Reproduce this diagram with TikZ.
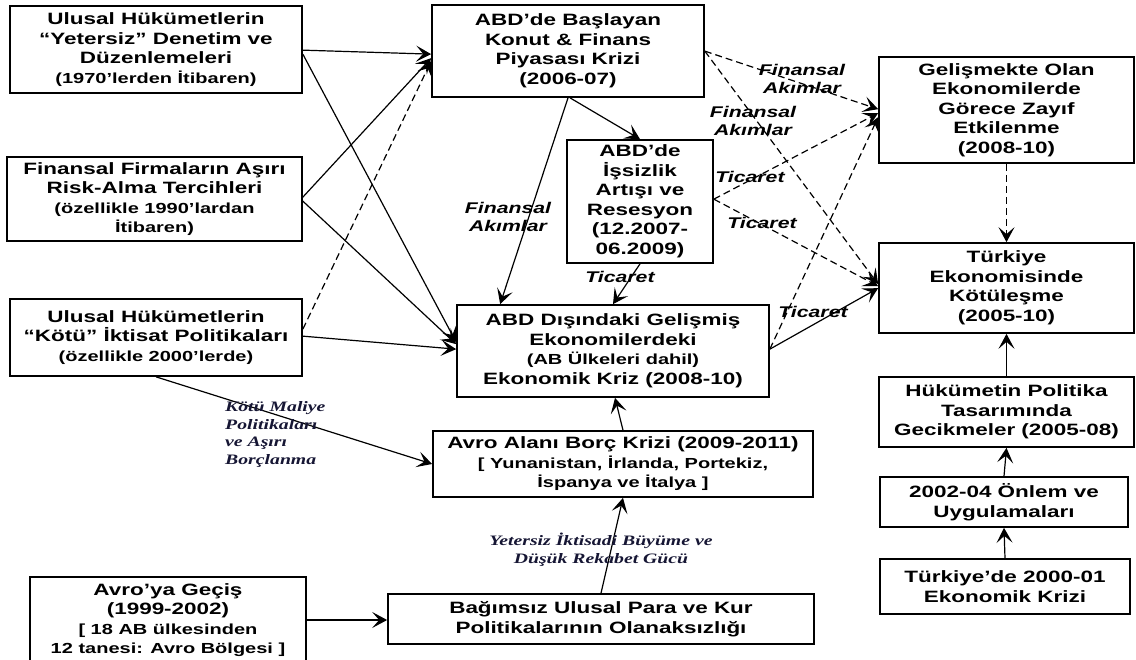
\documentclass[tikz,border=0pt]{standalone}
\usepackage{fontspec}
\setmainfont{Liberation Sans}[FakeStretch=1.37]
\newfontfamily\serifbi{Liberation Serif}[FakeStretch=1.37]
\usetikzlibrary{arrows.meta,calc}
\definecolor{labnavy}{RGB}{22,22,52}
\tikzset{
  box/.style={draw, line width=1.7pt, align=center, inner sep=0pt,
    font=\bfseries\fontsize{16.4}{19.5}\selectfont},
  arr/.style={line width=1.2pt, -{Stealth[length=15pt,width=16pt,inset=7pt]}},
  dsh/.style={arr, dash pattern=on 7pt off 4pt},
  lab/.style={font=\bfseries\itshape\fontsize{15.5}{18}\selectfont, align=center, inner sep=0pt},
  tlab/.style={font=\serifbi\bfseries\itshape\fontsize{14.4}{17.7}\selectfont, text=labnavy, align=left, inner sep=0pt},
}
\newcommand{\sm}[1]{{\fontsize{14.6}{18}\selectfont #1}}
\begin{document}
\begin{tikzpicture}[x=1pt,y=-1pt]
\useasboundingbox (0,0) rectangle (1136,660);
\clip (0,0) rectangle (1136,660);
\fill[white] (0,0) rectangle (1136,660);
% left column
\node[box, minimum width=292pt, minimum height=87pt] (A1) at (156,49.5)
  {Ulusal Hükümetlerin\\“Yetersiz” Denetim ve\\Düzenlemeleri\\\sm{(1970’lerden İtibaren)}};
\node[box, minimum width=295pt, minimum height=84pt] (A2) at (154.5,199)
  {Finansal Firmaların Aşırı\\Risk-Alma Tercihleri\\\sm{(özellikle 1990’lardan}\\\sm{İtibaren)}};
\node[box, minimum width=292pt, minimum height=77pt] (A3) at (156,337.5)
  {Ulusal Hükümetlerin\\“Kötü” İktisat Politikaları\\\sm{(özellikle 2000’lerde)}};
\node[box, minimum width=276pt, minimum height=86pt] (A4) at (168,620)
  {Avro’ya Geçiş\\(1999-2002)\\\sm{[ 18 AB ülkesinden}\\\sm{12 tanesi: Avro Bölgesi ]}};
% middle column
\node[box, minimum width=272pt, minimum height=92pt] (B1) at (568,51)
  {ABD’de Başlayan\\Konut \& Finans\\Piyasası Krizi\\(2006-07)};
\node[box, minimum width=146pt, minimum height=123pt] (B2) at (640,201.5)
  {ABD’de\\İşsizlik\\Artışı ve\\Resesyon\\(12.2007-\\06.2009)};
\node[box, minimum width=312pt, minimum height=92pt] (B3) at (613,351)
  {ABD Dışındaki Gelişmiş\\Ekonomilerdeki\\\sm{(AB Ülkeleri dahil)}\\Ekonomik Kriz (2008-10)};
\node[box, minimum width=380pt, minimum height=66pt] (B4) at (623,464)
  {Avro Alanı Borç Krizi (2009-2011)\\\sm{[ Yunanistan, İrlanda, Portekiz,}\\\sm{İspanya ve İtalya ]}};
\node[box, minimum width=426pt, minimum height=50pt] (B5) at (601,619)
  {Bağımsız Ulusal Para ve Kur\\Politikalarının Olanaksızlığı};
% right column
\node[box, minimum width=255pt, minimum height=106pt] (C1) at (1006.5,110)
  {Gelişmekte Olan\\Ekonomilerde\\Görece Zayıf\\Etkilenme\\(2008-10)};
\node[box, minimum width=255pt, minimum height=90pt] (C2) at (1006.5,288)
  {Türkiye\\Ekonomisinde\\Kötüleşme\\(2005-10)};
\node[box, minimum width=255pt, minimum height=70pt] (C3) at (1006.5,412)
  {Hükümetin Politika\\Tasarımında\\Gecikmeler (2005-08)};
\node[box, minimum width=248pt, minimum height=50pt] (C4) at (1004,502)
  {2002-04 Önlem ve\\Uygulamaları};
\node[box, minimum width=250pt, minimum height=55pt] (C5) at (1005,586.5)
  {Türkiye’de 2000-01\\Ekonomik Krizi};
% connectors from the left column
\draw[arr] ($(A1.north east)+(0,45)$) -- ($(B1.north west)+(0,50)$);
\draw[arr] ($(A1.north east)+(0,49)$) -- ($(B3.north west)+(0,38)$);
\draw[arr] ($(A2.north east)+(0,41)$) -- ($(B1.north west)+(0,54)$);
\draw[arr] ($(A2.north east)+(0,45)$) -- ($(B3.north west)+(0,40)$);
\draw[dsh] ($(A3.north east)+(0,31)$) -- ($(B1.north west)+(0,57)$);
\draw[arr] ($(A3.north east)+(0,38)$) -- ($(B3.north west)+(0,45)$);
\draw[arr] (A3.south) -- (B4.west);
\draw[arr] (A4.east) -- (A4.east -| B5.west);
% middle connectors
\draw[arr] (B5.north) -- (B4.south);
\draw[arr] (B4.north) -- ($(B3.south)+(2,0)$);
\draw[arr] (B1.south) -- ($(B3.north west)+(44,0)$);
\draw[arr] ($(B1.south)+(2,0)$) -- (B2.north);
\draw[arr] (B2.south) -- (B3.north);
% to the right column
\draw[dsh] ($(B1.north east)+(0,47)$) -- ($(C1.north west)+(0,53)$);
\draw[dsh] ($(B1.north east)+(0,47)$) -- ($(C2.north west)+(0,42)$);
\draw[dsh] ($(B2.north east)+(0,60)$) -- ($(C1.north west)+(0,57)$);
\draw[dsh] ($(B2.north east)+(0,60)$) -- ($(C2.north west)+(0,44)$);
\draw[dsh] ($(B3.north east)+(0,45)$) -- ($(C1.north west)+(0,61)$);
\draw[arr] ($(B3.north east)+(0,45)$) -- ($(C2.north west)+(0,46)$);
\draw[dsh] (C1.south) -- (C2.north);
\draw[arr] (C3.north) -- (C2.south);
\draw[arr] (C4.north) -- (C3.south);
\draw[arr] (C5.north) -- (C4.south);
% labels
\node[lab] (L1) at (508,217) {Finansal\\Akımlar};
\node[lab] (L2) at (620,277) {Ticaret};
\node[lab] (L3) at (802,79) {Finansal\\Akımlar};
\node[lab] (L4) at (753,121) {Finansal\\Akımlar};
\node[lab] (L5) at (750,177) {Ticaret};
\node[lab] (L6) at (762,223) {Ticaret};
\node[lab] (L7) at (813,312) {Ticaret};
\node[tlab, anchor=west] (L8) at (225,434.5) {Kötü Maliye\\Politikaları\\ve Aşırı\\Borçlanma};
\node[tlab, align=center] (L9) at (601,550) {Yetersiz İktisadi Büyüme ve\\Düşük Rekabet Gücü};
\end{tikzpicture}
\end{document}
